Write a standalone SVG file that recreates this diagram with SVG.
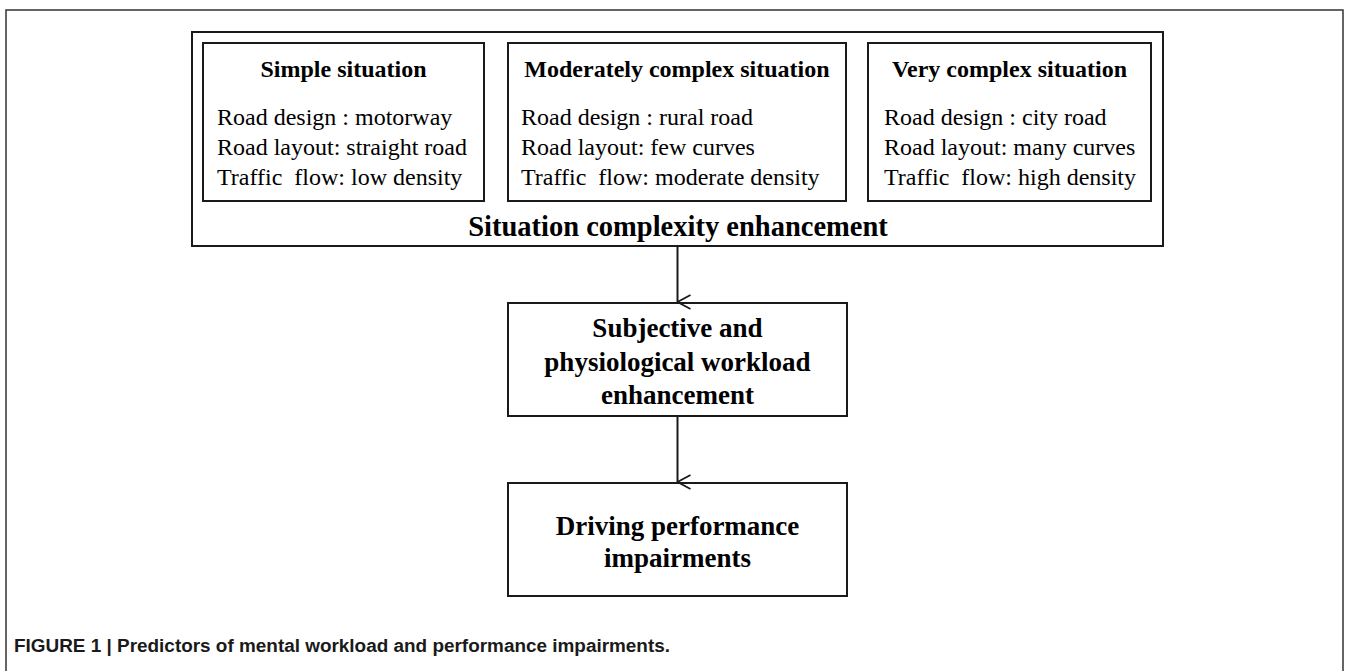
<svg xmlns="http://www.w3.org/2000/svg" width="1349" height="671" viewBox="0 0 1349 671">
<style>
.box{fill:#fff;stroke:#1a1a1a;stroke-width:2}
.frame{fill:none;stroke:#333;stroke-width:1.5}
.t{font-family:"Liberation Serif","Times New Roman",serif;fill:#000}
.hd{font-weight:bold;font-size:24px;text-anchor:middle}
.ttl{font-weight:bold;font-size:28.5px;text-anchor:middle}
.bd{font-size:24px;white-space:pre}
.big{font-weight:bold;font-size:27px;text-anchor:middle}
.cap{font-family:"Liberation Sans Narrow","Liberation Sans",Arial,sans-serif;font-weight:bold;font-size:18px;fill:#1a1a1a}
.conn{stroke:#1a1a1a;stroke-width:2;fill:none}
</style>
<defs>
<marker id="arr" viewBox="0 0 16 15" refX="8" refY="14" markerWidth="16" markerHeight="15" markerUnits="userSpaceOnUse" orient="auto-start-reverse">
<path d="M1,1 L8,14 L15,1" fill="none" stroke="#1a1a1a" stroke-width="1.8"/>
</marker>
</defs>
<rect class="frame" x="6" y="10" width="1337" height="700"/>
<g id="container">
<rect class="box" x="192" y="32" width="971" height="214"/>
<text class="t ttl" x="678" y="236">Situation complexity enhancement</text>
</g>
<g id="simple">
<rect class="box" x="203" y="43" width="281" height="158"/>
<text class="t hd" x="343.5" y="77">Simple situation</text>
<text class="t bd" x="217" y="125">Road design : motorway</text>
<text class="t bd" x="217" y="155">Road layout: straight road</text>
<text class="t bd" x="217" y="185" xml:space="preserve">Traffic  flow: low density</text>
</g>
<g id="moderate">
<rect class="box" x="508" y="43" width="338" height="158"/>
<text class="t hd" x="677" y="77">Moderately complex situation</text>
<text class="t bd" x="521" y="125">Road design : rural road</text>
<text class="t bd" x="521" y="155">Road layout: few curves</text>
<text class="t bd" x="521" y="185" xml:space="preserve">Traffic  flow: moderate density</text>
</g>
<g id="very">
<rect class="box" x="868" y="43" width="283" height="158"/>
<text class="t hd" x="1009.5" y="77">Very complex situation</text>
<text class="t bd" x="884" y="125">Road design : city road</text>
<text class="t bd" x="884" y="155">Road layout: many curves</text>
<text class="t bd" x="884" y="185" xml:space="preserve">Traffic  flow: high density</text>
</g>
<g id="workload">
<rect class="box" x="508" y="303" width="339" height="113"/>
<text class="t big" x="677.5" y="337">Subjective and</text>
<text class="t big" x="677.5" y="371">physiological workload</text>
<text class="t big" x="677.5" y="404">enhancement</text>
</g>
<g id="performance">
<rect class="box" x="508" y="483" width="339" height="113"/>
<text class="t big" x="677.5" y="535">Driving performance</text>
<text class="t big" x="677.5" y="567">impairments</text>
</g>
<g id="connectors">
<line class="conn" x1="677.5" y1="246" x2="677.5" y2="302" marker-end="url(#arr)"/>
<line class="conn" x1="677.5" y1="416" x2="677.5" y2="482" marker-end="url(#arr)"/>
</g>
<text class="cap" x="14" y="652" textLength="656" lengthAdjust="spacingAndGlyphs">FIGURE 1 | Predictors of mental workload and performance impairments.</text>
</svg>
